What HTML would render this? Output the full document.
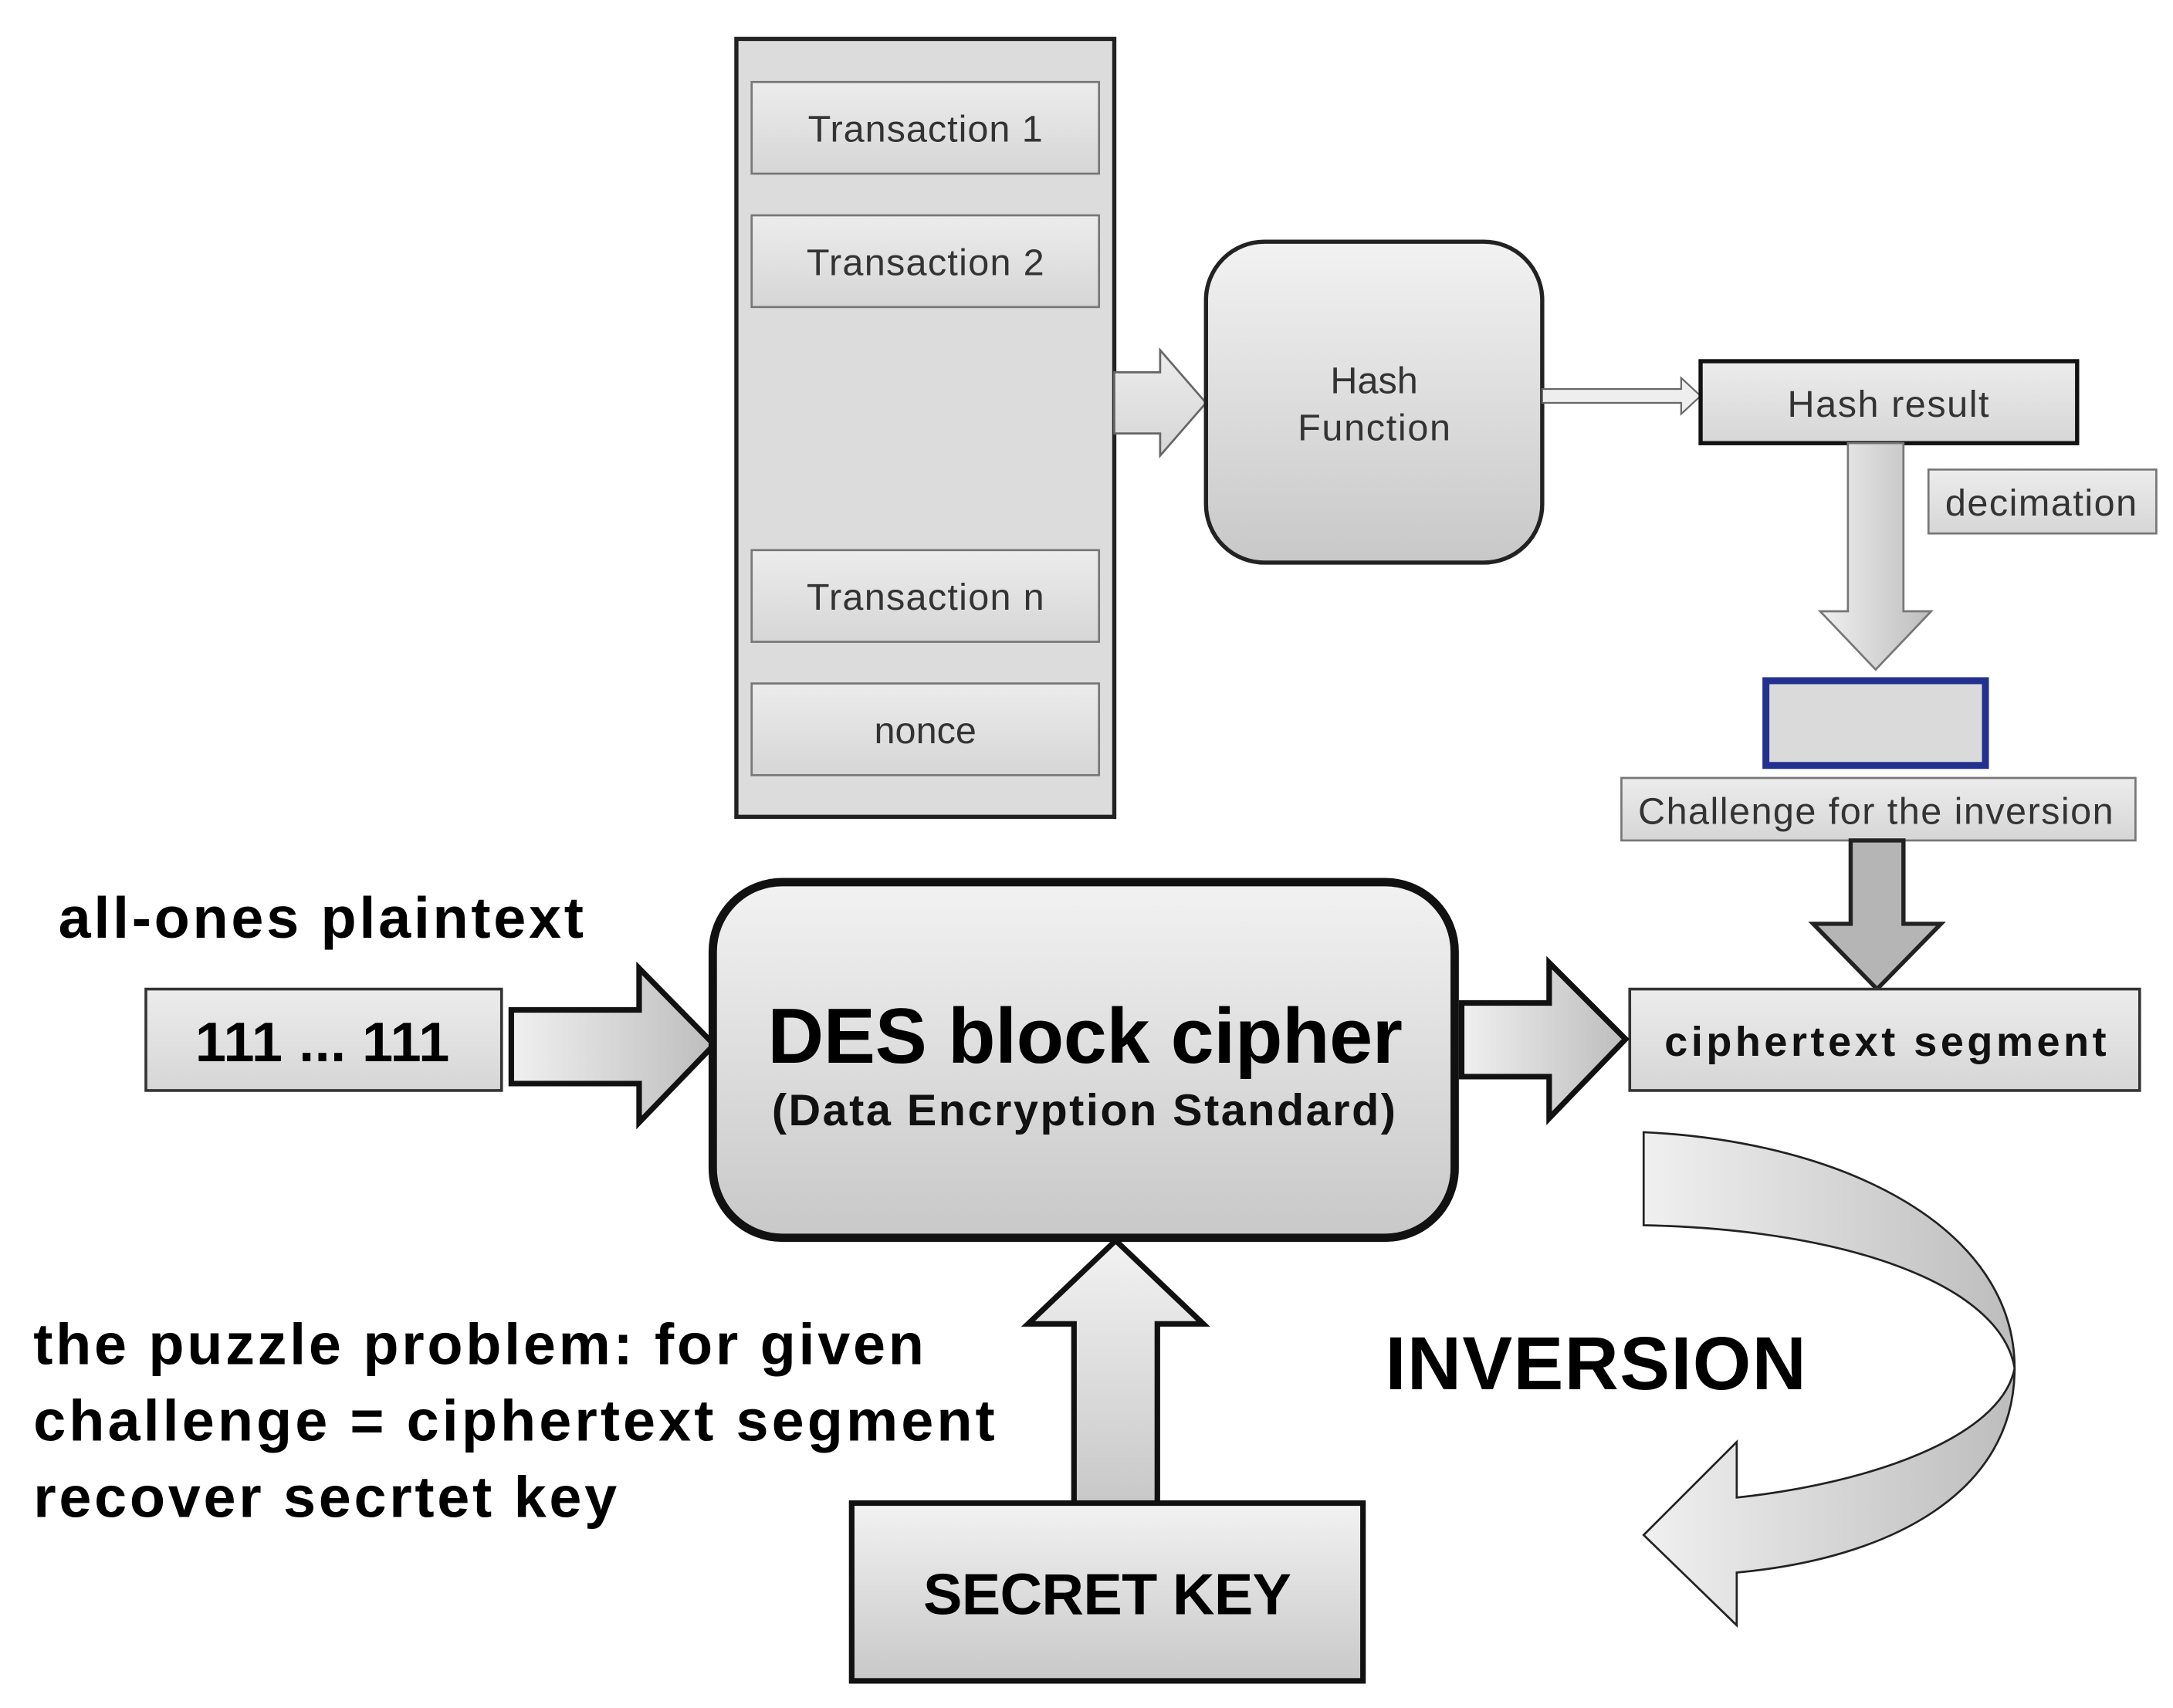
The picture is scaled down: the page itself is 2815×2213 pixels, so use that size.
<!DOCTYPE html>
<html><head><meta charset="utf-8"><style>
html,body{margin:0;padding:0;background:#fff;}
svg{display:block;}
text{font-family:"Liberation Sans",Arial,sans-serif;}
</style></head><body>
<svg width="2815" height="2213" viewBox="0 0 1564 1229.5" xmlns="http://www.w3.org/2000/svg">
<defs>
<linearGradient id="g1" x1="0" y1="0" x2="0" y2="1"><stop offset="0" stop-color="#f2f2f2"/><stop offset="1" stop-color="#c8c8c8"/></linearGradient>
<linearGradient id="g2" x1="0" y1="0" x2="1" y2="0"><stop offset="0" stop-color="#f0f0f0"/><stop offset="1" stop-color="#bdbdbd"/></linearGradient>
<linearGradient id="g3" x1="0" y1="0" x2="0" y2="1"><stop offset="0" stop-color="#ececec"/><stop offset="1" stop-color="#d6d6d6"/></linearGradient>
</defs>
<rect width="1564" height="1230" fill="#fff"/>
<rect x="530" y="28" width="272" height="560" fill="#dcdcdc" stroke="#222" stroke-width="3"/>
<g fill="url(#g3)" stroke="#777" stroke-width="1.5">
<rect x="541" y="59" width="250" height="66"/>
<rect x="541" y="155" width="250" height="66"/>
<rect x="541" y="396" width="250" height="66"/>
<rect x="541" y="492" width="250" height="66"/>
</g>
<g font-size="27" fill="#333" text-anchor="middle">
<text x="666" y="102" textLength="169">Transaction 1</text>
<text x="666" y="198" textLength="171">Transaction 2</text>
<text x="666" y="439" textLength="171">Transaction n</text>
<text x="666" y="535">nonce</text>
</g>
<path d="M802 268 L835 268 L835 252 L868 290 L835 328 L835 312 L802 312 Z" fill="url(#g3)" stroke="#666" stroke-width="1.5"/>
<rect x="868" y="174" width="242" height="231" rx="42" fill="url(#g1)" stroke="#222" stroke-width="3"/>
<text x="989" y="283" font-size="27" fill="#333" text-anchor="middle">Hash</text>
<text x="989" y="317" font-size="27" fill="#333" text-anchor="middle" textLength="110">Function</text>
<path d="M1110 280 L1210 280 L1210 272 L1224 285 L1210 298 L1210 290 L1110 290 Z" fill="#eee" stroke="#666" stroke-width="1.2"/>
<rect x="1224" y="260" width="271" height="59" fill="url(#g3)" stroke="#111" stroke-width="3"/>
<text x="1359" y="300" font-size="27" fill="#333" text-anchor="middle" textLength="145">Hash result</text>
<rect x="1388" y="338" width="164" height="46" fill="url(#g3)" stroke="#777" stroke-width="1.5"/>
<text x="1469" y="371" font-size="27" fill="#333" text-anchor="middle" textLength="138">decimation</text>
<path d="M1330 319 L1370 319 L1370 440 L1390 440 L1350 482 L1310 440 L1330 440 Z" fill="url(#g2)" stroke="#777" stroke-width="1.5"/>
<rect x="1271" y="490" width="158" height="61" fill="#dadada" stroke="#22318f" stroke-width="5"/>
<rect x="1167" y="560" width="370" height="45" fill="url(#g3)" stroke="#777" stroke-width="1.5"/>
<text x="1350" y="593" font-size="27" fill="#333" text-anchor="middle" textLength="342">Challenge for the inversion</text>
<path d="M1332 605 L1370 605 L1370 665 L1397 665 L1351 712 L1305 665 L1332 665 Z" fill="#b5b5b5" stroke="#222" stroke-width="3"/>
<rect x="1173" y="712" width="367" height="73" fill="url(#g3)" stroke="#333" stroke-width="2"/>
<text x="1357" y="760" font-size="30" font-weight="bold" fill="#111" text-anchor="middle" textLength="318">ciphertext segment</text>
<text x="42" y="675" font-size="42" font-weight="bold" fill="#000" textLength="378">all-ones plaintext</text>
<rect x="105" y="712" width="256" height="73" fill="url(#g3)" stroke="#333" stroke-width="2"/>
<text x="232" y="764" font-size="40" font-weight="bold" fill="#000" text-anchor="middle" textLength="183">111 ... 111</text>
<path d="M368 727 L460 727 L460 697 L514 752 L460 808 L460 780 L368 780 Z" fill="url(#g2)" stroke="#111" stroke-width="4"/>
<rect x="513" y="635" width="534" height="256" rx="50" fill="url(#g1)" stroke="#111" stroke-width="6"/>
<text x="781" y="765" font-size="56" font-weight="bold" fill="#000" text-anchor="middle" textLength="457">DES block cipher</text>
<text x="780" y="810" font-size="32" font-weight="bold" fill="#111" text-anchor="middle" textLength="449">(Data Encryption Standard)</text>
<path d="M1052 722 L1115 722 L1115 693 L1170 748 L1115 805 L1115 775 L1052 775 Z" fill="url(#g2)" stroke="#111" stroke-width="4"/>
<path d="M803 893 L866 953 L833 953 L833 1083 L773 1083 L773 953 L740 953 Z" fill="url(#g1)" stroke="#111" stroke-width="4"/>
<rect x="613" y="1082" width="368" height="128" fill="url(#g1)" stroke="#111" stroke-width="4"/>
<text x="797" y="1162" font-size="42" font-weight="bold" fill="#000" text-anchor="middle" textLength="265">SECRET KEY</text>
<g font-size="42" font-weight="bold" fill="#000">
<text x="24" y="982" textLength="641">the puzzle problem: for given</text>
<text x="24" y="1037" textLength="692">challenge = ciphertext segment</text>
<text x="24" y="1092" textLength="420">recover secrtet key</text>
</g>
<text x="997" y="1000" font-size="54" font-weight="bold" fill="#000" textLength="303">INVERSION</text>
<path d="M1183 815 C1330 822 1450 885 1450 985 C1450 1075 1360 1122 1250 1132 L1250 1170 L1183 1105 L1250 1038 L1250 1078 C1345 1068 1440 1035 1450 985 C1440 925 1330 885 1183 882 Z" fill="url(#g2)" stroke="#222" stroke-width="1.5"/>
</svg>
</body></html>
